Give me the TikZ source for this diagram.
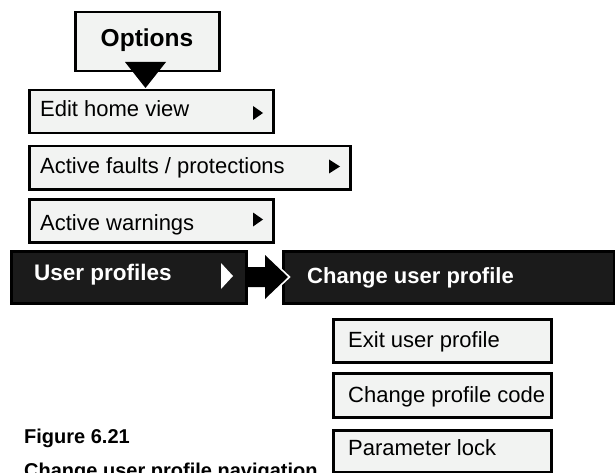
\documentclass[tikz,border=0pt]{standalone}
\usepackage{fontspec}
\setmainfont{Liberation Sans}
\definecolor{boxgrey}{HTML}{F2F3F2}
\definecolor{darkbox}{HTML}{1B1B1B}
\tikzset{
  lightbox/.style={draw=black, line width=2.5pt, fill=boxgrey, rectangle, inner sep=0pt, anchor=north west},
  blackbox/.style={draw=black, line width=2.5pt, fill=darkbox, rectangle, inner sep=0pt, anchor=north west},
  itemtext/.style={anchor=base west, inner sep=0pt, font=\fontsize{22}{26}\selectfont},
  boldtext/.style={anchor=base west, inner sep=0pt, text=white, font=\bfseries\fontsize{22.5}{26}\selectfont},
  captext/.style={anchor=base west, inner sep=0pt, font=\bfseries\fontsize{20}{24}\selectfont},
}
\begin{document}
\begin{tikzpicture}[x=1pt,y=-1pt]
\useasboundingbox (0,0) rectangle (615,473);
% Options box
\node[lightbox, minimum width=144pt, minimum height=59pt] (opt) at (74,11) {};
\node[anchor=base, inner sep=0pt, font=\bfseries\fontsize{24.5}{28}\selectfont] (opttxt) at (147,47) {Options};
% menu items
\node[lightbox, minimum width=244pt, minimum height=43pt] (edit) at (28,89) {};
\node[itemtext] (edittxt) at (40,117) {Edit home view};
\fill (253,106) -- (263,113) -- (253,120) -- cycle;
\node[lightbox, minimum width=321pt, minimum height=43pt] (faults) at (28,145) {};
\node[itemtext] (faultstxt) at (40,174) {Active faults / protections};
\fill (329,159.5) -- (340,166.5) -- (329,173.5) -- cycle;
\node[lightbox, minimum width=244pt, minimum height=43pt] (warn) at (28,198) {};
\node[itemtext] (warntxt) at (40,230) {Active warnings};
\fill (253,212.5) -- (263,219.5) -- (253,226.5) -- cycle;
% triangle from Options to Edit home view
\fill (125,62) -- (166,62) -- (145.5,88) -- cycle;
% User profiles
\node[blackbox, minimum width=235pt, minimum height=52pt] (user) at (10,250) {};
\node[boldtext] (usertxt) at (34,280) {User profiles};
\fill[white] (221,263) -- (233,276) -- (221,289) -- cycle;
% Change user profile
\node[blackbox, minimum width=331pt, minimum height=52pt] (change) at (282,250) {};
\node[boldtext, font=\bfseries\fontsize{22}{26}\selectfont] (changetxt) at (307,283) {Change user profile};
% big arrow from user to change
\draw[white, line width=3pt] (265,255) -- (288.5,277) -- (265,299);
\fill[black] (user.east |- 0,267) -- (265,267) -- (265,255) -- (288,277) -- (265,299) -- (265,287) -- (user.east |- 0,287) -- cycle;
% sub items
\node[lightbox, minimum width=218pt, minimum height=43pt] (exit) at (332,318) {};
\node[itemtext] (exittxt) at (348,347) {Exit user profile};
\node[lightbox, minimum width=218pt, minimum height=44pt] (code) at (332,372) {};
\node[itemtext] (codetxt) at (348,402) {Change profile code};
\node[lightbox, minimum width=218pt, minimum height=42pt] (lock) at (332,429) {};
\node[itemtext] (locktxt) at (348,455) {Parameter lock};
% caption
\node[captext] (fig) at (24,443) {Figure 6.21};
\node[captext] (figsub) at (24,477) {Change user profile navigation};
\end{tikzpicture}
\end{document}
